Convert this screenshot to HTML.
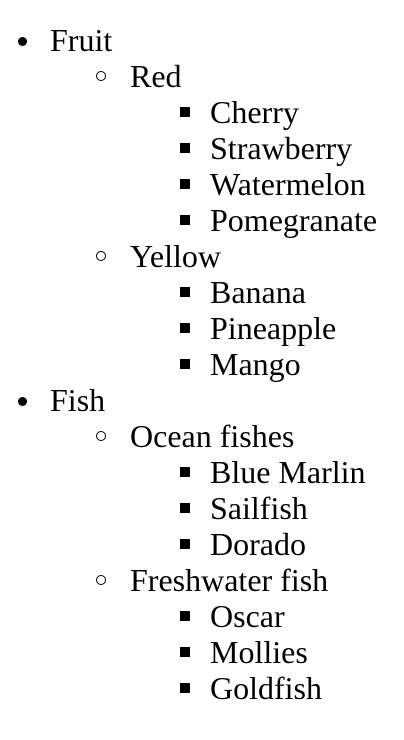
<!DOCTYPE html>
<html><head><meta charset="utf-8"><style>
html,body{margin:0;padding:0;background:#fff;width:404px;height:740px;overflow:hidden}
body{font-family:"Liberation Serif",serif;font-size:32px;line-height:36px;color:#000}
ul{margin:0;padding-left:80px;list-style:none}
ul.top{padding-left:50px;margin-top:22px}
li{position:relative}
ul.top>li::before{content:"";position:absolute;left:-32px;top:15px;width:9px;height:9px;border-radius:50%;background:#000}
ul.l2>li::before{content:"";position:absolute;left:-34px;top:13px;width:8px;height:8px;border-radius:50%;border:1.5px solid #000;background:#fff}
ul.l3>li::before{content:"";position:absolute;left:-30px;top:13px;width:10px;height:10px;background:#000}
</style></head><body>
<ul class="top">
<li>Fruit
<ul class="l2">
<li>Red
<ul class="l3">
<li>Cherry</li>
<li>Strawberry</li>
<li>Watermelon</li>
<li>Pomegranate</li>
</ul></li>
<li>Yellow
<ul class="l3">
<li>Banana</li>
<li>Pineapple</li>
<li>Mango</li>
</ul></li>
</ul></li>
<li>Fish
<ul class="l2">
<li>Ocean fishes
<ul class="l3">
<li>Blue Marlin</li>
<li>Sailfish</li>
<li>Dorado</li>
</ul></li>
<li>Freshwater fish
<ul class="l3">
<li>Oscar</li>
<li>Mollies</li>
<li>Goldfish</li>
</ul></li>
</ul></li>
</ul>
</body></html>
